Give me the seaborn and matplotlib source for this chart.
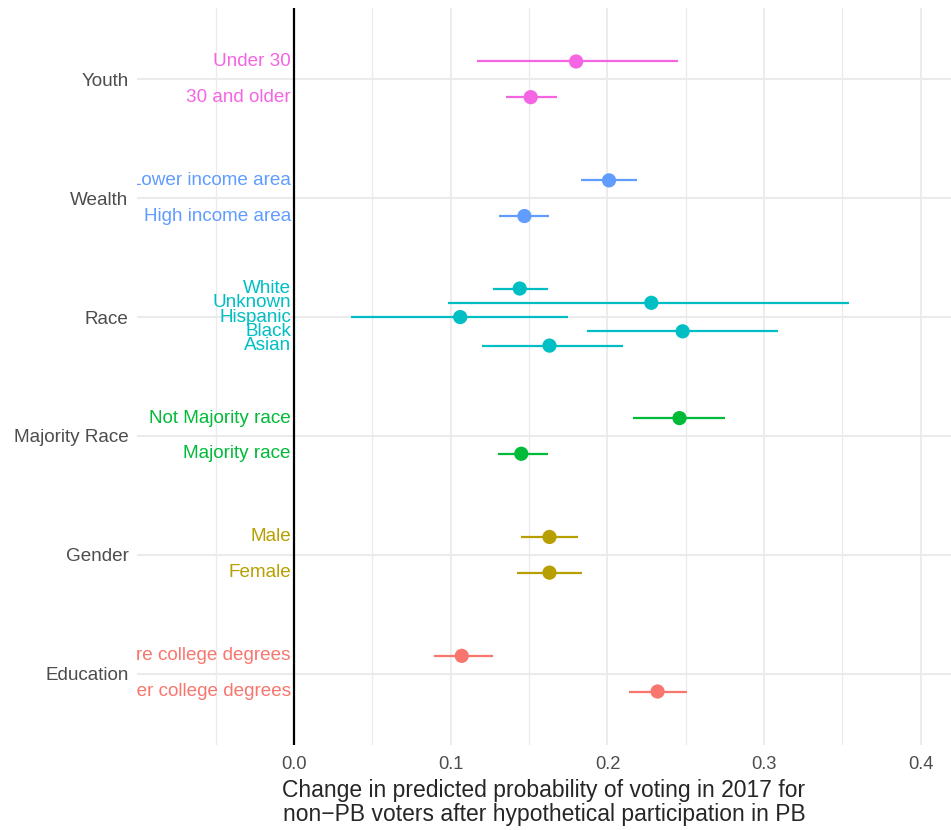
import matplotlib
matplotlib.use("Agg")
import matplotlib.pyplot as plt
import numpy as np
import pandas as pd
import seaborn as sns

sns.set_style("white")
plt.rcParams["font.family"] = ["Liberation Sans", "DejaVu Sans"]

# groups from bottom to top, and the levels inside each (bottom to top)
groups = ["Education", "Gender", "Majority Race", "Race", "Wealth", "Youth"]
levels = [
    ["Fewer college degrees", "More college degrees"],
    ["Female", "Male"],
    ["Majority race", "Not Majority race"],
    ["Asian", "Black", "Hispanic", "Unknown", "White"],
    ["High income area", "Lower income area"],
    ["30 and older", "Under 30"],
]
estimates = [
    [0.232, 0.107],
    [0.163, 0.163],
    [0.145, 0.246],
    [0.163, 0.248, 0.106, 0.228, 0.144],
    [0.147, 0.201],
    [0.151, 0.180],
]
lower = [
    [0.214, 0.089],
    [0.142, 0.145],
    [0.130, 0.216],
    [0.120, 0.187, 0.036, 0.098, 0.127],
    [0.131, 0.183],
    [0.135, 0.117],
]
upper = [
    [0.251, 0.127],
    [0.184, 0.181],
    [0.162, 0.275],
    [0.210, 0.309, 0.175, 0.354, 0.162],
    [0.163, 0.219],
    [0.168, 0.245],
]
colors = ["#F8766D", "#B79F00", "#00BA38", "#00BFC4", "#619CFF", "#F564E3"]

# dodge each group's levels like ggplot position_dodge(width=0.6)
rows = []
dodge = 0.6
for gi, g in enumerate(groups):
    n = len(levels[gi])
    for li, lab in enumerate(levels[gi]):
        y = gi + dodge / n * (li - (n - 1) / 2)
        rows.append(dict(group=g, label=lab, y=y, est=estimates[gi][li],
                         lo=lower[gi][li], hi=upper[gi][li]))
df = pd.DataFrame(rows)
pal = dict(zip(groups, colors))

fig = plt.figure(figsize=(9.51, 8.3), dpi=100)
ax = fig.add_axes([137 / 951, 1 - 745 / 830, 1 - 137 / 951, (745 - 8) / 830])

# grid like theme_minimal
for xv in np.arange(-0.05, 0.45, 0.1):
    ax.axvline(xv, color="#EBEBEB", lw=0.9, zorder=0)
for xv in np.arange(0.1, 0.45, 0.1):
    ax.axvline(xv, color="#EBEBEB", lw=1.3, zorder=0)
for yv in range(len(groups)):
    ax.axhline(yv, color="#EBEBEB", lw=1.5, zorder=0)
ax.axvline(0, color="black", lw=1.6, zorder=1)

ax.hlines(df["y"], df["lo"], df["hi"], colors=df["group"].map(pal), lw=1.6, zorder=2)
sns.scatterplot(data=df, x="est", y="y", hue="group", palette=pal, s=105,
                edgecolor="none", legend=False, ax=ax, zorder=3)

# level names sit just left of zero and get clipped at the panel edge
for _, r in df.iterrows():
    ax.text(-0.002, r["y"], r["label"], ha="right", va="center", fontsize=13.6,
            color=pal[r["group"]], clip_on=True)

ax.set_xlim(-0.1003, 0.4193)
ax.set_ylim(-0.6, len(groups) - 0.4)
ax.set_yticks(range(len(groups)))
ax.set_yticklabels(groups, fontsize=13.6, color="#4D4D4D")
ax.set_xticks([0.0, 0.1, 0.2, 0.3, 0.4])
ax.set_xticklabels(["0.0", "0.1", "0.2", "0.3", "0.4"], fontsize=13.2, color="#4D4D4D")
ax.tick_params(axis="x", length=0, pad=8)
ax.tick_params(axis="y", length=0, pad=6)
ax.set_ylabel("")
ax.set_xlabel("Change in predicted probability of voting in 2017 for\n"
              "non\u2212PB voters after hypothetical participation in PB",
              fontsize=16.5, linespacing=1.1, labelpad=4)
sns.despine(ax=ax, left=True, bottom=True)

fig.savefig("out.png", dpi=100)
